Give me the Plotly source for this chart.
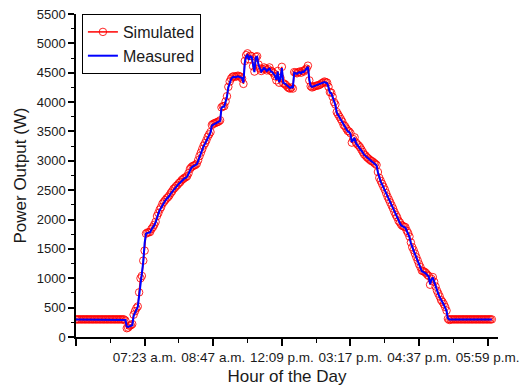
import plotly.graph_objects as go

# one reading every 2 units on the x scale (major tick every 100 units)
step = 2

measured = [
    300, 300, 300, 300, 300, 300, 300, 300, 300, 300, 300, 300,
    300, 300, 300, 300, 300, 300, 300, 300, 300, 300, 300, 300,
    300, 300, 300, 300, 300, 300, 300, 300, 300, 300, 300, 300,
    290, 180, 170, 180, 190, 200, 360, 420, 470, 510, 700, 900,
    1020, 1280, 1600, 1760, 1770, 1770, 1780, 1830, 1860, 1900, 1950, 2050,
    2100, 2160, 2200, 2260, 2290, 2320, 2350, 2370, 2400, 2440, 2470, 2510,
    2530, 2560, 2580, 2610, 2630, 2660, 2680, 2700, 2710, 2730, 2780, 2850,
    2880, 2900, 2910, 2920, 2940, 3000, 3070, 3130, 3190, 3250, 3290, 3340,
    3400, 3440, 3480, 3600, 3620, 3630, 3640, 3650, 3660, 3680, 3900, 3920,
    3920, 4000, 4090, 4250, 4340, 4390, 4420, 4430, 4420, 4430, 4440, 4430,
    4420, 4410, 4330, 4670, 4780, 4800, 4720, 4780, 4770, 4600, 4510, 4760,
    4770, 4630, 4560, 4520, 4550, 4580, 4560, 4530, 4550, 4580, 4520, 4510,
    4480, 4450, 4380, 4520, 4340, 4400, 4580, 4330, 4320, 4300, 4270, 4250,
    4240, 4260, 4240, 4500, 4490, 4480, 4500, 4510, 4490, 4520, 4510, 4540,
    4560, 4600, 4380, 4280, 4260, 4270, 4280, 4290, 4290, 4300, 4310, 4330,
    4340, 4340, 4330, 4320, 4250, 4160, 4150, 4080, 3990, 3950, 3820, 3780,
    3740, 3700, 3660, 3600, 3580, 3540, 3500, 3490, 3460, 3320, 3360, 3390,
    3300, 3270, 3250, 3220, 3180, 3140, 3100, 3080, 3050, 3030, 3010, 2990,
    2980, 2960, 2940, 2920, 2800, 2700, 2650, 2600, 2550, 2500, 2440, 2380,
    2330, 2280, 2230, 2180, 2120, 2070, 2030, 1970, 1940, 1900, 1880, 1870,
    1860, 1800, 1760, 1700, 1600, 1520, 1470, 1410, 1350, 1290, 1230, 1180,
    1120, 1110, 1100, 1080, 1050, 1030, 900, 980, 1010, 930, 850, 780,
    730, 680, 620, 590, 550, 500, 440, 320, 300, 300, 300, 300,
    300, 300, 300, 300, 300, 300, 300, 300, 300, 300, 300, 300,
    300, 300, 300, 300, 300, 300, 300, 300, 300, 300, 300, 300,
    300, 300, 300, 300,
]

simulated = [
    300, 300, 300, 300, 300, 300, 300, 300, 300, 300, 300, 300,
    300, 300, 300, 300, 300, 300, 300, 300, 300, 300, 300, 300,
    300, 300, 300, 300, 300, 300, 300, 300, 300, 300, 300, 300,
    280, 150, 160, 190, 200, 220, 380, 440, 490, 520, 760, 1000,
    1040, 1300, 1470, 1760, 1780, 1780, 1790, 1840, 1870, 1910, 1960, 2060,
    2110, 2170, 2210, 2270, 2300, 2330, 2360, 2380, 2410, 2450, 2480, 2520,
    2540, 2570, 2590, 2620, 2640, 2670, 2690, 2710, 2720, 2740, 2790, 2860,
    2890, 2910, 2920, 2930, 2950, 3010, 3080, 3140, 3200, 3260, 3300, 3350,
    3410, 3450, 3490, 3610, 3630, 3640, 3650, 3660, 3670, 3690, 3910, 3930,
    3930, 4010, 4100, 4260, 4350, 4400, 4430, 4440, 4430, 4440, 4450, 4440,
    4430, 4400, 4310, 4700, 4800, 4830, 4730, 4790, 4780, 4610, 4520, 4770,
    4780, 4640, 4570, 4530, 4560, 4590, 4570, 4540, 4560, 4590, 4530, 4520,
    4490, 4440, 4370, 4530, 4330, 4410, 4600, 4320, 4310, 4290, 4260, 4240,
    4230, 4250, 4230, 4510, 4500, 4490, 4510, 4520, 4500, 4530, 4520, 4550,
    4570, 4620, 4370, 4270, 4250, 4260, 4270, 4280, 4280, 4290, 4300, 4320,
    4330, 4350, 4340, 4330, 4260, 4170, 4160, 4090, 4000, 3960, 3830, 3790,
    3750, 3710, 3670, 3610, 3590, 3550, 3510, 3500, 3470, 3310, 3370, 3400,
    3310, 3280, 3260, 3230, 3190, 3150, 3110, 3090, 3060, 3040, 3020, 3000,
    2990, 2970, 2950, 2930, 2810, 2710, 2660, 2610, 2560, 2510, 2450, 2390,
    2340, 2290, 2240, 2190, 2130, 2080, 2040, 1980, 1950, 1910, 1890, 1880,
    1870, 1810, 1770, 1710, 1610, 1530, 1480, 1420, 1360, 1300, 1240, 1190,
    1130, 1120, 1110, 1090, 1060, 1040, 890, 990, 1020, 940, 860, 790,
    740, 690, 630, 600, 560, 510, 450, 310, 290, 300, 300, 300,
    300, 300, 300, 300, 300, 300, 300, 300, 300, 300, 300, 300,
    300, 300, 300, 300, 300, 300, 300, 300, 300, 300, 300, 300,
    300, 300, 300, 300,
]

x_measured = [i * step for i in range(len(measured))]
x_simulated = [i * step for i in range(len(simulated))]

tick_positions = [0, 100, 200, 300, 400, 500, 600]
tick_labels = ["", "07:23 a.m.", "08:47 a.m.", "12:09 p.m.", "03:17 p.m.",
               "04:37 p.m.", "05:59 p.m."]

FONT = "Liberation Sans, Arial, sans-serif"
INK = "#1a1a1a"

fig = go.Figure()
fig.add_trace(go.Scatter(
    x=x_simulated, y=simulated, name="Simulated", mode="lines+markers",
    line=dict(color="#ff0000", width=1.5),
    marker=dict(symbol="circle-open", size=7.5, color="rgba(255,0,0,0.85)",
                line=dict(width=1, color="rgba(255,0,0,0.85)")),
))
fig.add_trace(go.Scatter(
    x=x_measured, y=measured, name="Measured", mode="lines",
    line=dict(color="#0000ff", width=2),
))

fig.update_layout(
    width=521, height=392,
    margin=dict(l=76, r=23, t=14, b=55, autoexpand=False),
    paper_bgcolor="white", plot_bgcolor="white",
    font=dict(family=FONT, color=INK),
    showlegend=True,
    legend=dict(
        x=0.014, y=1.0, xanchor="left", yanchor="top",
        bgcolor="white", bordercolor="#000000", borderwidth=1,
        font=dict(size=16, family=FONT, color=INK),
        tracegroupgap=0, itemwidth=30,
    ),
)

fig.update_xaxes(
    range=[0, 615], showgrid=False, zeroline=False, automargin=False,
    showline=True, linecolor="#000000", linewidth=1.5,
    tickmode="array", tickvals=tick_positions, ticktext=tick_labels,
    ticks="outside", ticklen=7, tickwidth=1.5, tickcolor="#000000",
    tickfont=dict(size=13.5, family=FONT, color=INK),
    minor=dict(ticks="outside", ticklen=4, tickwidth=1.2, tickcolor="#000000",
               dtick=50, tick0=0),
    title=dict(text="Hour of the Day", font=dict(size=17, family=FONT, color=INK),
               standoff=6),
)
fig.update_yaxes(
    range=[0, 5500], showgrid=False, zeroline=False, automargin=False,
    showline=True, linecolor="#000000", linewidth=1.5,
    tickmode="linear", tick0=0, dtick=500,
    ticks="outside", ticklen=6, tickwidth=1.5, tickcolor="#000000",
    tickfont=dict(size=13, family=FONT, color=INK),
    minor=dict(ticks="outside", ticklen=3, tickwidth=1.2, tickcolor="#000000",
               dtick=250, tick0=0),
    title=dict(text="Power Output (W)", font=dict(size=17, family=FONT, color=INK),
               standoff=6),
)

fig.write_html("out.html")
